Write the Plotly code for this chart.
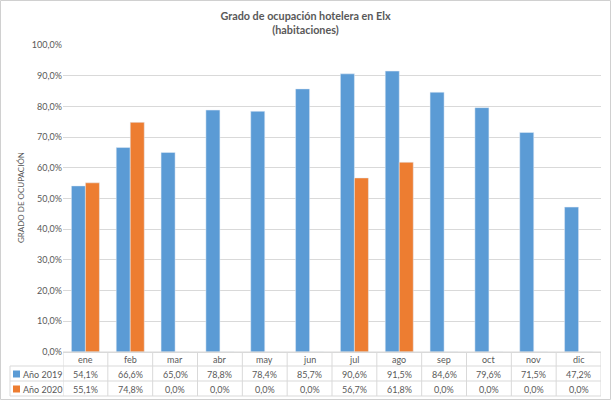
import plotly.graph_objects as go

months = ["ene", "feb", "mar", "abr", "may", "jun", "jul", "ago", "sep", "oct", "nov", "dic"]
s2019_name = "Año 2019"
s2020_name = "Año 2020"
v2019 = [0.541, 0.666, 0.650, 0.788, 0.784, 0.857, 0.906, 0.915, 0.846, 0.796, 0.715, 0.472]
v2020 = [0.551, 0.748, 0.0, 0.0, 0.0, 0.0, 0.567, 0.618, 0.0, 0.0, 0.0, 0.0]
yticks = [i / 10 for i in range(11)]

C19 = "#5B9BD5"
C20 = "#ED7D31"
TXT = "#595959"
GRID = "#D9D9D9"
FONT = "Lato"

W, H = 611, 400
L, R, T, B = 63, 601, 45, 352


def xp(px):
    return (px - L) / (R - L)


def yp(py):
    return (B - py) / (B - T)


def fmt(v):
    return f"{v*100:.1f}%".replace(".", ",")


fig = go.Figure()
fig.add_bar(x=months, y=v2019, name=s2019_name, marker_color=C19)
fig.add_bar(x=months, y=v2020, name=s2020_name, marker_color=C20)

shapes = []
annotations = []

row_lines = [366, 381, 396]
row_centers = [359, 374, 389]

shapes.append(dict(type="line", xref="paper", yref="paper", x0=0, x1=1,
                   y0=yp(352), y1=yp(352), line=dict(color=GRID, width=1)))
for ry in row_lines:
    shapes.append(dict(type="line", xref="paper", yref="paper", x0=xp(10), x1=1,
                       y0=yp(ry), y1=yp(ry), line=dict(color=GRID, width=1)))
for i in range(len(months) + 1):
    shapes.append(dict(type="line", xref="x", yref="paper", x0=i - 0.5, x1=i - 0.5,
                       y0=yp(352), y1=yp(396), line=dict(color=GRID, width=1)))
shapes.append(dict(type="line", xref="paper", yref="paper", x0=xp(10), x1=xp(10),
                   y0=yp(366), y1=yp(396), line=dict(color=GRID, width=1)))


def ann(x, y, text, xref="paper", xanchor="center", size=9, angle=0):
    annotations.append(dict(x=x, y=y, xref=xref, yref="paper", text=text,
                            showarrow=False, xanchor=xanchor, yanchor="middle",
                            textangle=angle,
                            font=dict(size=size, color=TXT, family=FONT)))


for i, m in enumerate(months):
    ann(i, yp(row_centers[0]), m, xref="x")

for vals, name, col, cy in [(v2019, s2019_name, C19, row_centers[1]),
                            (v2020, s2020_name, C20, row_centers[2])]:
    shapes.append(dict(type="rect", xref="paper", yref="paper", x0=xp(13), x1=xp(20),
                       y0=yp(cy + 3.5), y1=yp(cy - 3.5), fillcolor=col, line=dict(width=0)))
    ann(xp(20.5), yp(cy), name, xanchor="left")
    for i, v in enumerate(vals):
        ann(i, yp(cy), fmt(v), xref="x")

ann(xp(21), yp(198), "GRADO DE OCUPACIÓN", size=8, angle=-90)

shapes.append(dict(type="rect", xref="paper", yref="paper", x0=xp(0.5), x1=xp(610.5),
                   y0=yp(399.5), y1=yp(0.5), line=dict(color="#D0D0D0", width=1)))

fig.update_layout(
    width=W, height=H,
    margin=dict(l=L, r=W - R, t=T, b=H - B),
    paper_bgcolor="white", plot_bgcolor="white",
    separators=",.",
    showlegend=False,
    barmode="group", bargap=0.375, bargroupgap=0,
    title=dict(text="<b>Grado de ocupación hotelera en Elx<br>(habitaciones)</b>",
               x=0.5, xanchor="center", y=1 - 20 / H, yanchor="middle",
               font=dict(size=10.8, color=TXT, family=FONT)),
    xaxis=dict(type="category", showticklabels=False, range=[-0.5, 11.5],
               showline=True, linecolor=GRID, showgrid=False, ticks=""),
    yaxis=dict(range=[0, 1], tickvals=yticks, tickformat=".1%", showgrid=True,
               gridcolor=GRID, zeroline=False, showline=False, ticks="",
               tickfont=dict(size=9, color=TXT, family=FONT)),
    shapes=shapes, annotations=annotations,
    font=dict(family=FONT, color=TXT),
)

fig.write_html("out.html")
